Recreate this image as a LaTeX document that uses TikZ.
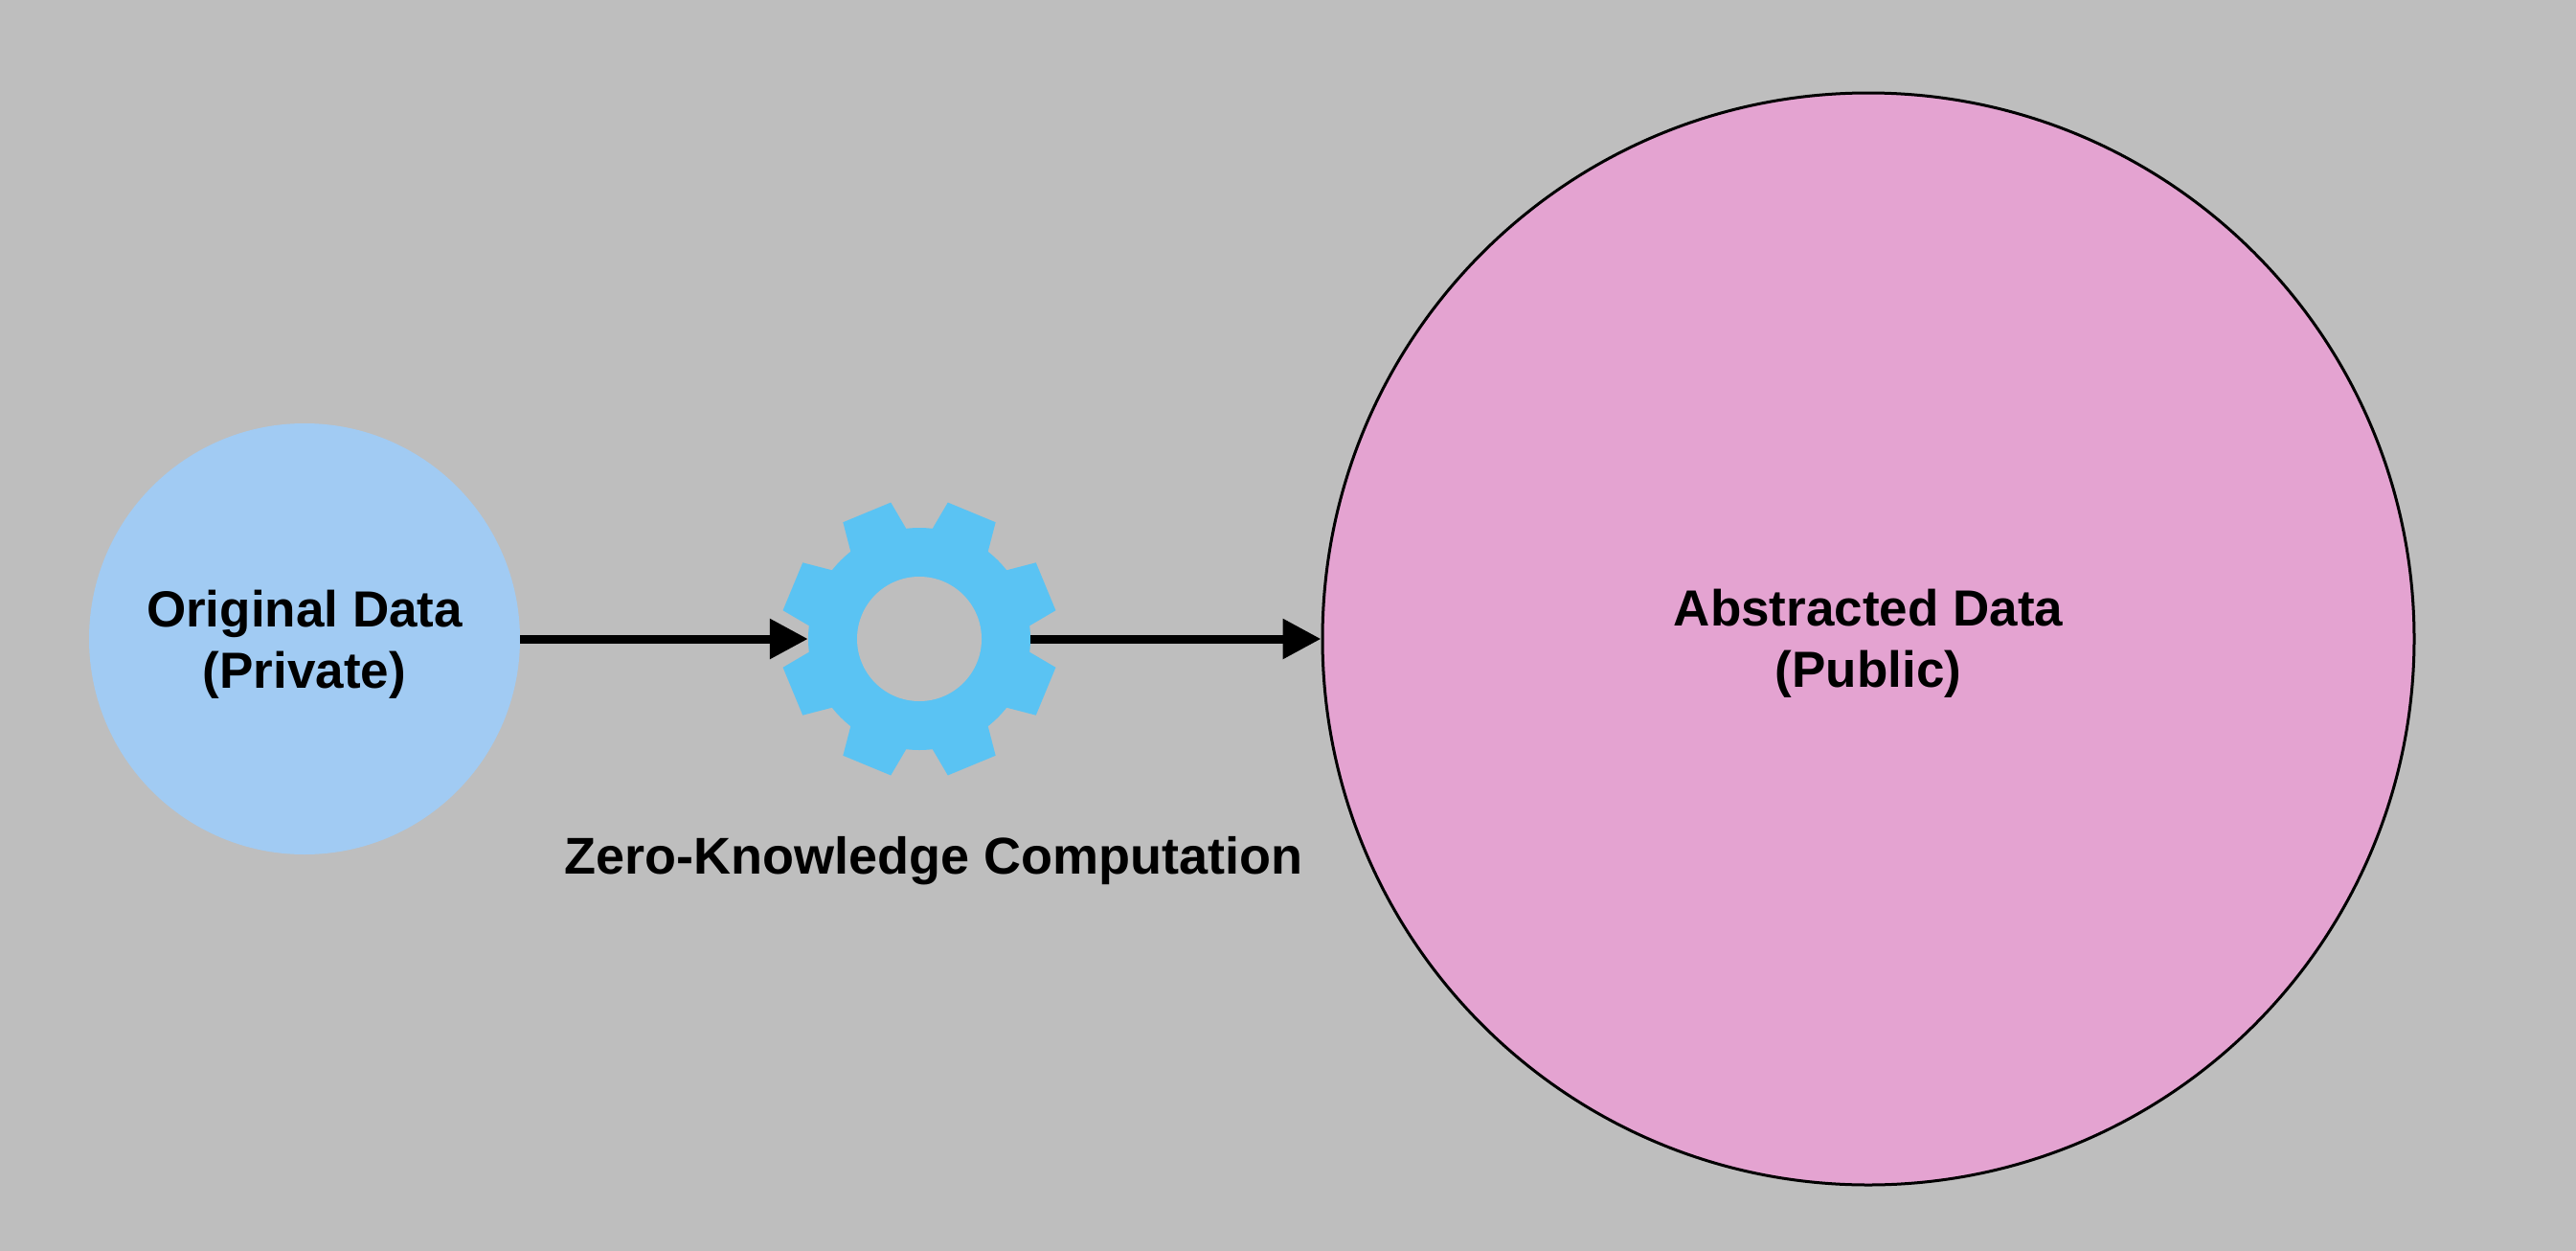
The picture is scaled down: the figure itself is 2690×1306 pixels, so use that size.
\documentclass[tikz,border=0pt]{standalone}
\usepackage{fontspec}
\setmainfont{Liberation Sans}
\usetikzlibrary{arrows.meta,calc}
\definecolor{bggray}{RGB}{190,190,190}
\definecolor{privblue}{RGB}{161,203,243}
\definecolor{gearblue}{RGB}{90,195,243}
\definecolor{pubpink}{RGB}{228,163,209}
\tikzset{
  datalabel/.style={align=center,font=\fontsize{53}{64}\selectfont\bfseries},
  flow/.style={line width=9pt,-{Triangle[length=40pt,width=40pt]}},
}
\begin{document}
\begin{tikzpicture}[x=1pt,y=-1pt]
\useasboundingbox (0,0) rectangle (2690,1306);
\fill[bggray] (0,0) rectangle (2690,1306);
% private data
\node[circle,fill=privblue,minimum size=450pt,inner sep=0pt] (priv) at (318,667) {};
\node[datalabel] (privtext) at (318,673) {Original Data\\(Private)};
% public data
\node[circle,fill=pubpink,draw=black,line width=3pt,minimum size=1140pt,inner sep=0pt] (pub) at (1951,667) {};
\node[datalabel] (pubtext) at (1951,672) {Abstracted Data\\(Public)};
% gear
\coordinate (g) at (960,667);
\foreach \a in {22.5,67.5,...,337.5}{
  \fill[gearblue] ($(g)+(\a:100pt)+(\a+90:33pt)$) -- ($(g)+(\a:143pt)+(\a+90:27pt)$)
     -- ($(g)+(\a:143pt)+(\a-90:27pt)$) -- ($(g)+(\a:100pt)+(\a-90:33pt)$) -- cycle;
}
\node[circle,fill=gearblue,minimum size=232pt,inner sep=0pt] (gear) at (g) {};
\fill[bggray] (g) circle (65pt);
\node[font=\fontsize{54}{64}\selectfont\bfseries] (zk) at (975,899) {Zero-Knowledge Computation};
% arrows
\draw[flow] (priv.east) -- (gear.west);
\draw[flow] (gear.east) -- (pub.west);
\end{tikzpicture}
\end{document}
